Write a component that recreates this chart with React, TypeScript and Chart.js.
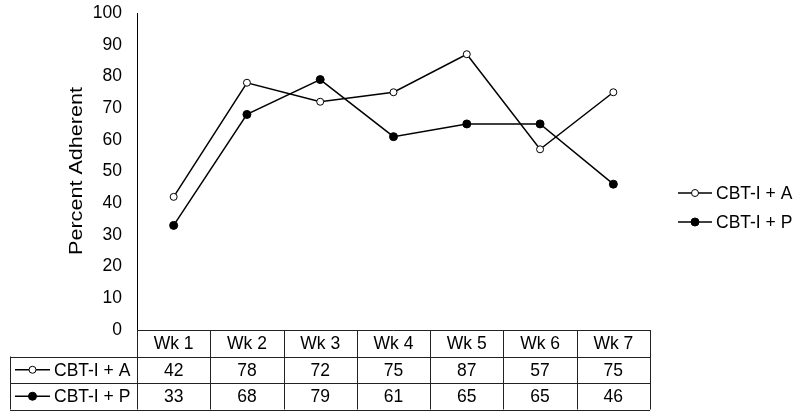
import React, { useEffect, useRef } from "react";
import { Chart, registerables } from "chart.js";

Chart.register(...registerables);

const categories = ["Wk 1", "Wk 2", "Wk 3", "Wk 4", "Wk 5", "Wk 6", "Wk 7"];
const seriesA = [42, 78, 72, 75, 87, 57, 75];
const seriesP = [33, 68, 79, 61, 65, 65, 46];
const seriesNames = ["CBT-I + A", "CBT-I + P"];
const yTicks = [0, 10, 20, 30, 40, 50, 60, 70, 80, 90, 100];
const yTitle = "Percent Adherent";

const FONT = "'Liberation Sans', Arial, sans-serif";
const FS = 17.5;

const drawMarker = (ctx: CanvasRenderingContext2D, x: number, y: number, filled: boolean) => {
  ctx.beginPath();
  ctx.arc(x, y, filled ? 4 : 3.5, 0, Math.PI * 2);
  ctx.fillStyle = filled ? "#000" : "#fff";
  ctx.fill();
  ctx.lineWidth = 1;
  ctx.strokeStyle = "#000";
  ctx.stroke();
};

const drawLegendSymbol = (ctx: CanvasRenderingContext2D, x1: number, x2: number, y: number, filled: boolean) => {
  ctx.beginPath();
  ctx.moveTo(x1, y);
  ctx.lineTo(x2, y);
  ctx.lineWidth = 1.5;
  ctx.strokeStyle = "#000";
  ctx.stroke();
  drawMarker(ctx, (x1 + x2) / 2, y, filled);
};

const tablePlugin = {
  id: "tablePlugin",
  afterDraw(chart: any) {
    const ctx: CanvasRenderingContext2D = chart.ctx;
    const xs = chart.scales.x;
    const area = chart.chartArea;
    const n = categories.length;
    const colW = (area.right - area.left) / n;
    const top = area.bottom;
    const rowH = 26.5;
    const tableLeft = 10;
    ctx.save();
    ctx.strokeStyle = "#222";
    ctx.lineWidth = 1;
    const hline = (x1: number, x2: number, y: number) => {
      ctx.beginPath();
      ctx.moveTo(x1, Math.round(y) + 0.5);
      ctx.lineTo(x2, Math.round(y) + 0.5);
      ctx.stroke();
    };
    const vline = (x: number, y1: number, y2: number) => {
      ctx.beginPath();
      ctx.moveTo(Math.round(x) + 0.5, y1);
      ctx.lineTo(Math.round(x) + 0.5, y2);
      ctx.stroke();
    };
    hline(area.left, area.right, top);
    hline(tableLeft, area.right, top + rowH);
    hline(tableLeft, area.right, top + rowH * 2);
    hline(tableLeft, area.right, top + rowH * 3);
    vline(tableLeft, top + rowH, top + rowH * 3);
    for (let i = 0; i <= n; i++) {
      vline(area.left + colW * i, top, top + rowH * 3);
    }
    ctx.fillStyle = "#000";
    ctx.font = `${FS}px ${FONT}`;
    ctx.textAlign = "center";
    ctx.textBaseline = "middle";
    const rows = [seriesA, seriesP];
    categories.forEach((c, i) => {
      const cx = xs.getPixelForValue(i);
      ctx.fillText(c, cx, top + rowH / 2 + 1);
      rows.forEach((r, j) => {
        ctx.fillText(String(r[i]), cx, top + rowH * (j + 1.5) + 1);
      });
    });
    seriesNames.forEach((name, j) => {
      const y = top + rowH * (j + 1.5);
      drawLegendSymbol(ctx, 15, 50, y, j === 1);
      ctx.fillStyle = "#000";
      ctx.textAlign = "left";
      ctx.fillText(name, 54, y + 1);
    });
    seriesNames.forEach((name, j) => {
      const y = 193 + j * 29;
      drawLegendSymbol(ctx, 678, 712, y, j === 1);
      ctx.fillStyle = "#000";
      ctx.textAlign = "left";
      ctx.fillText(name, 716, y + 1);
    });
    ctx.save();
    ctx.font = `18px ${FONT}`;
    const w = ctx.measureText(yTitle).width;
    ctx.translate(77, 171);
    ctx.rotate(-Math.PI / 2);
    ctx.scale(168 / w, 1);
    ctx.textAlign = "center";
    ctx.fillText(yTitle, 0, 0);
    ctx.restore();
    ctx.restore();
  },
};

export default function App() {
  const ref = useRef<HTMLCanvasElement>(null);
  useEffect(() => {
    document.body.style.margin = "0";
    const chart = new Chart(ref.current!, {
      type: "line",
      data: {
        labels: categories,
        datasets: [
          {
            label: seriesNames[0],
            data: seriesA,
            borderColor: "#000",
            borderWidth: 1.5,
            pointRadius: 3.5,
            pointBackgroundColor: "#fff",
            pointBorderColor: "#000",
            pointBorderWidth: 1,
          },
          {
            label: seriesNames[1],
            data: seriesP,
            borderColor: "#000",
            borderWidth: 1.5,
            pointRadius: 4,
            pointBackgroundColor: "#000",
            pointBorderColor: "#000",
            pointBorderWidth: 1,
          },
        ],
      },
      options: {
        animation: false,
        responsive: false,
        devicePixelRatio: 1,
        layout: { padding: { left: 0, right: 150, top: 13, bottom: 90 } },
        plugins: { legend: { display: false }, tooltip: { enabled: false } },
        scales: {
          x: { type: "category", offset: true, display: false },
          y: {
            min: 0,
            max: 100,
            afterFit: (s: any) => {
              s.width = 137;
              s.paddingTop = 0;
              s.paddingBottom = 0;
            },
            afterBuildTicks: (s: any) => {
              s.ticks = yTicks.map((v) => ({ value: v }));
            },
            grid: { display: false, drawTicks: false },
            border: { display: true, color: "#000", width: 1 },
            ticks: {
              color: "#000",
              padding: 15,
              font: { family: FONT, size: FS },
            },
          },
        },
      },
      plugins: [tablePlugin],
    } as any);
    return () => chart.destroy();
  }, []);
  return (
    <div style={{ width: 800, height: 420 }}>
      <canvas ref={ref} width={800} height={420} />
    </div>
  );
}
